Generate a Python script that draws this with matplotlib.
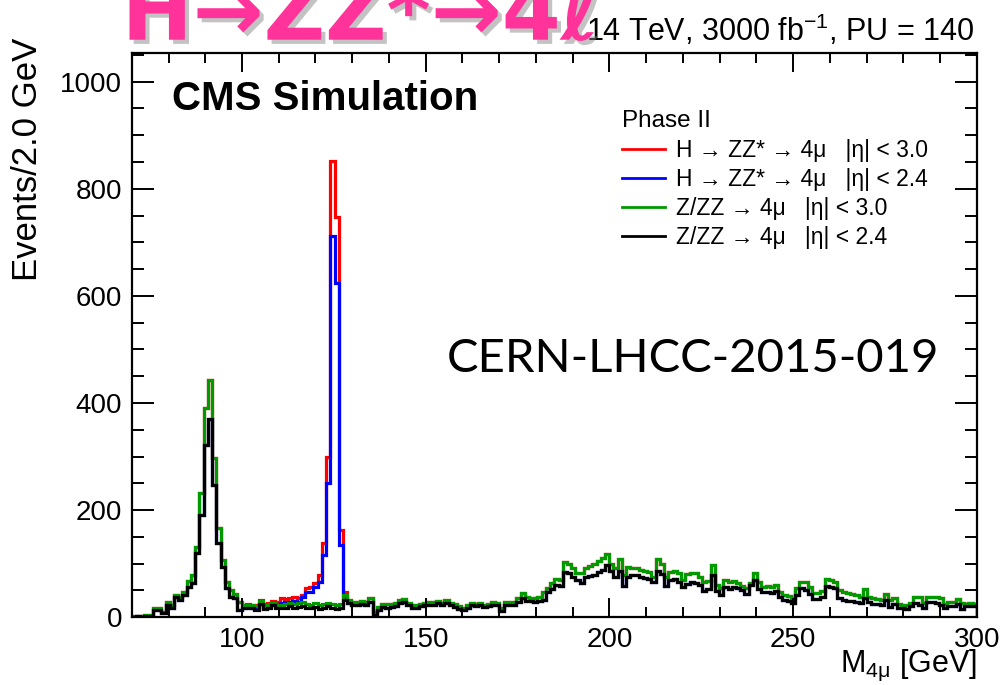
import matplotlib.pyplot as plt
import matplotlib.patheffects as pe
from matplotlib.lines import Line2D
from matplotlib.ticker import MultipleLocator
import numpy as np

plt.rcParams['font.family'] = ['Liberation Sans', 'DejaVu Sans']
plt.rcParams['mathtext.fontset'] = 'custom'
plt.rcParams['mathtext.rm'] = 'Liberation Sans'
plt.rcParams['mathtext.it'] = 'Liberation Sans:italic'
plt.rcParams['mathtext.bf'] = 'Liberation Sans:bold'

# binning of the M(4mu) histograms
m_min, m_max, n_bins = 70, 300, 200

# Z/ZZ -> 4mu, |eta| < 3.0 (green)
zz_eta30 = [
    2, 3, 2, 4, 4, 17, 17, 10, 28, 22, 41, 37, 47, 67, 78, 131, 231, 390, 443, 297,
    166, 106, 66, 50, 44, 29, 22, 23, 22, 20, 30, 21, 22, 27, 22, 23, 24, 26, 25, 26,
    28, 24, 23, 26, 22, 24, 27, 24, 22, 25, 41, 32, 29, 29, 30, 29, 35, 10, 19, 24,
    24, 24, 27, 32, 34, 27, 23, 23, 25, 27, 29, 28, 31, 27, 32, 27, 24, 20, 18, 23,
    27, 25, 27, 23, 25, 29, 26, 18, 29, 29, 28, 35, 45, 37, 36, 35, 37, 47, 55, 63,
    71, 70, 103, 100, 91, 82, 82, 91, 96, 100, 104, 110, 118, 100, 91, 108, 79, 93, 92, 91,
    89, 87, 85, 75, 108, 100, 75, 85, 87, 82, 70, 81, 82, 82, 75, 65, 68, 97, 60, 55,
    70, 65, 67, 63, 58, 55, 63, 83, 66, 57, 58, 57, 60, 47, 41, 40, 35, 54, 66, 66,
    56, 45, 45, 49, 71, 69, 66, 50, 47, 45, 43, 41, 38, 52, 38, 35, 34, 32, 43, 32,
    35, 24, 23, 22, 27, 37, 38, 27, 38, 38, 37, 35, 24, 29, 29, 34, 27, 24, 26, 25,
]

# Z/ZZ -> 4mu, |eta| < 2.4 (black)
zz_eta24 = [
    1, 2, 1, 3, 2, 13, 13, 7, 22, 17, 37, 32, 41, 56, 63, 119, 191, 321, 370, 247,
    138, 94, 54, 38, 35, 13, 17, 18, 17, 13, 24, 15, 17, 22, 17, 17, 18, 20, 18, 19,
    20, 18, 17, 19, 16, 18, 20, 17, 16, 18, 32, 26, 22, 22, 24, 22, 29, 4, 13, 19,
    18, 19, 21, 26, 29, 22, 18, 17, 20, 22, 23, 22, 26, 22, 27, 22, 19, 15, 13, 18,
    22, 20, 23, 19, 20, 23, 22, 11, 23, 23, 22, 29, 35, 31, 30, 29, 30, 33, 47, 52,
    60, 58, 85, 82, 75, 69, 63, 75, 76, 78, 85, 88, 97, 87, 75, 87, 58, 75, 78, 79,
    75, 73, 71, 66, 87, 81, 58, 70, 72, 66, 57, 62, 65, 63, 60, 49, 52, 79, 48, 42,
    57, 52, 56, 54, 51, 44, 60, 69, 52, 47, 47, 46, 49, 38, 32, 30, 27, 41, 54, 50,
    43, 34, 34, 38, 58, 56, 54, 35, 32, 31, 30, 29, 26, 35, 29, 24, 24, 22, 32, 19,
    24, 18, 17, 16, 20, 27, 22, 18, 29, 28, 26, 22, 18, 20, 20, 24, 16, 20, 20, 21,
]

# H -> ZZ* -> 4mu histograms around the Higgs peak (bins 27..50),
# outside this window they sit on the Z/ZZ histograms
h_first_bin = 27
h_eta30_peak = [24, 23, 22, 32, 25, 26, 31, 29, 35, 34, 35, 37, 36, 41, 54, 57,
                63, 79, 138, 300, 851, 748, 162, 47]
h_eta24_peak = [19, 18, 15, 25, 17, 19, 24, 22, 26, 28, 28, 30, 29, 38, 47, 47,
                57, 66, 116, 250, 711, 624, 134, 37]

labels = ['H → ZZ* → 4μ   |η| < 3.0', 'H → ZZ* → 4μ   |η| < 2.4',
          'Z/ZZ → 4μ   |η| < 3.0', 'Z/ZZ → 4μ   |η| < 2.4']
colors = ['#ff0000', '#0000ff', '#009900', '#000000']

edges = np.linspace(m_min, m_max, n_bins + 1)
green = np.array(zz_eta30, dtype=float)
black = np.array(zz_eta24, dtype=float)
red = green.copy()
red[h_first_bin:h_first_bin + len(h_eta30_peak)] = h_eta30_peak
blue = black.copy()
blue[h_first_bin:h_first_bin + len(h_eta24_peak)] = h_eta24_peak

fig = plt.figure(figsize=(10.06, 6.85), dpi=100)
ax = fig.add_axes([0.131, 0.099, 0.84, 0.824])

for vals, c in zip([red, blue, green, black], colors):
    ax.stairs(vals, edges, color=c, lw=2.3)

ax.set_xlim(m_min, m_max)
ax.set_ylim(0, 1054)
ax.xaxis.set_major_locator(MultipleLocator(50))
ax.xaxis.set_minor_locator(MultipleLocator(10))
ax.yaxis.set_major_locator(MultipleLocator(200))
ax.yaxis.set_minor_locator(MultipleLocator(50))
ax.tick_params(which='both', direction='in', top=True, right=True, width=1.4, labelsize=20)
ax.tick_params(axis='x', which='major', length=14, pad=7)
ax.tick_params(axis='x', which='minor', length=7)
ax.tick_params(axis='y', which='major', length=16, pad=7)
ax.tick_params(axis='y', which='minor', length=8.5)
for s in ax.spines.values():
    s.set_linewidth(1.6)

ax.set_ylabel('Events/2.0 GeV', fontsize=25, loc='top')
ax.yaxis.set_label_coords(-0.104, 1.027)
ax.text(1.0, -0.097, r'M$_{\mathrm{4\mu}}$ [GeV]', transform=ax.transAxes,
        ha='right', va='baseline', fontsize=22)

ax.text(0.047, 0.918, 'CMS Simulation', transform=ax.transAxes, fontsize=29,
        fontweight='bold', va='center', ha='left')
ax.text(0.373, 0.457, 'CERN-LHCC-2015-019', transform=ax.transAxes, fontsize=34,
        family=['Lato', 'DejaVu Sans'], va='center', ha='left')

handles = [Line2D([], [], color=c, lw=2) for c in colors]
leg = ax.legend(handles, labels, title='Phase II', loc='upper left',
                bbox_to_anchor=(0.567, 0.918), frameon=False, fontsize=16.5,
                title_fontsize=17.5, handlelength=1.85, handletextpad=0.5,
                labelspacing=0.27, alignment='left', borderpad=0)

fig.text(0.969, 0.94, r'14 TeV, 3000 fb$^{-1}$, PU = 140', ha='right',
         va='baseline', fontsize=22)
fig.text(0.121, 0.942, 'H→ZZ*→4ℓ', ha='left', va='baseline', fontsize=61,
         fontweight='bold', color='#ff3399', family=['DejaVu Sans'],
         path_effects=[pe.withSimplePatchShadow(offset=(3, -3), shadow_rgbFace='#888888', alpha=0.5)])

fig.savefig('out.png', dpi=100)
